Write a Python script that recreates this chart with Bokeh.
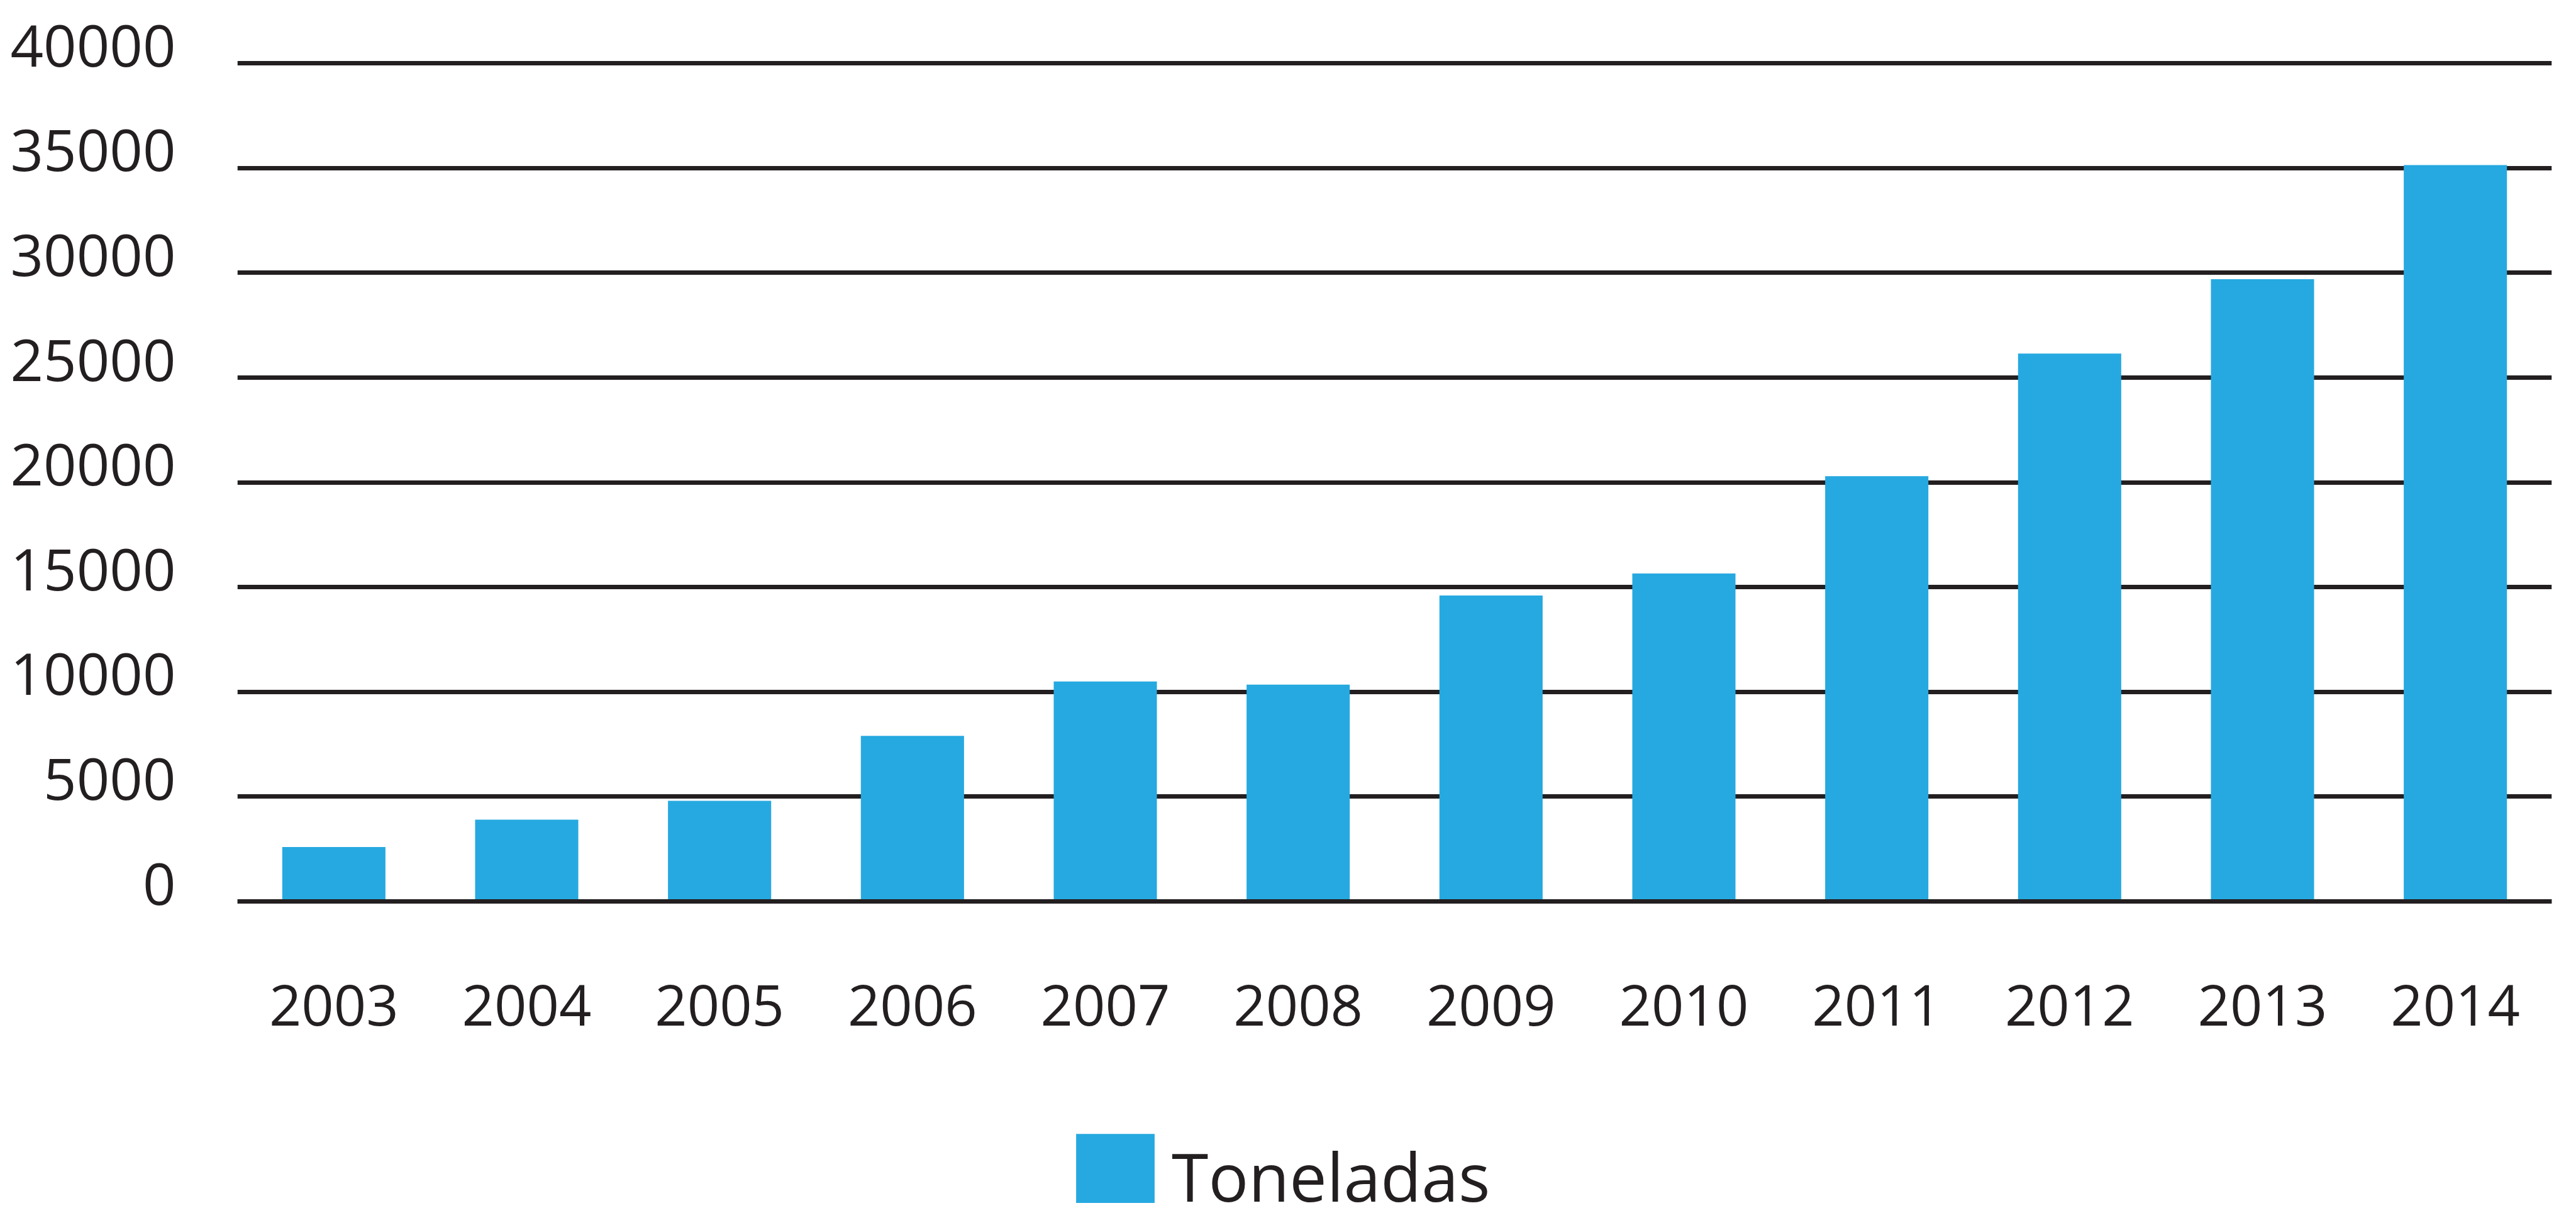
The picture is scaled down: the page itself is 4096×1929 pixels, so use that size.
from bokeh.plotting import figure
from bokeh.layouts import column
from bokeh.models import (FactorRange, Range1d, FixedTicker, ColumnDataSource,
                          Span, Legend, LegendItem)
from bokeh.embed import file_html
from bokeh.resources import INLINE

# ---- data ----
years = ["2003", "2004", "2005", "2006", "2007", "2008",
         "2009", "2010", "2011", "2012", "2013", "2014"]
toneladas = [2600, 3900, 4800, 7900, 10500, 10350,
             14600, 15650, 20300, 26150, 29700, 35150]
y_ticks = [0, 5000, 10000, 15000, 20000, 25000, 30000, 35000, 40000]
series_name = "Toneladas"

# ---- style ----
BLUE = "#26a9e0"
INK = "#231f20"
FONT = "Open Sans"
W = 4080
H_MAIN = 1710
H_LEG = 203
Y0, Y1 = -600, 41000
LABEL_SHIFT = 840  # y-labels sit a little above their grid lines

p = figure(width=W, height=H_MAIN, title=None,
           x_range=FactorRange(*years), y_range=Range1d(Y0, Y1),
           output_backend="svg", toolbar_location=None,
           min_border_left=377, min_border_right=23,
           min_border_top=67, min_border_bottom=H_MAIN - 1453)
p.outline_line_color = None
p.extra_y_ranges = {"lab": Range1d(Y0 - LABEL_SHIFT, Y1 - LABEL_SHIFT)}

src = ColumnDataSource(dict(year=years, toneladas=toneladas))
bars = p.vbar(x="year", top="toneladas", bottom=0, width=0.535, source=src,
              fill_color=BLUE, line_color=None)

# grid
p.xgrid.visible = False
p.ygrid.ticker = FixedTicker(ticks=y_ticks)
p.ygrid.grid_line_color = INK
p.ygrid.grid_line_width = 7

# zero line drawn over bar bottoms
p.add_layout(Span(location=0, dimension="width", line_color=INK, line_width=7))

# y axis
ya = p.yaxis[0]
ya.y_range_name = "lab"
ya.ticker = FixedTicker(ticks=y_ticks)
ya.axis_line_color = None
ya.major_tick_line_color = None
ya.minor_tick_line_color = None
ya.major_tick_out = 0
ya.minor_tick_out = 0
ya.major_label_standoff = 98
ya.major_label_text_font = FONT
ya.major_label_text_font_size = "92px"
ya.major_label_text_color = INK

# x axis
xa = p.xaxis[0]
xa.axis_line_color = None
xa.major_tick_line_color = None
xa.minor_tick_line_color = None
xa.major_tick_out = 0
xa.major_label_standoff = 112
xa.major_label_text_font = FONT
xa.major_label_text_font_size = "90px"
xa.major_label_text_color = INK

# ---- legend strip (own figure so nothing is clipped by the main frame) ----
lf = figure(width=W, height=H_LEG, title=None,
            x_range=FactorRange(*years), y_range=Range1d(0, 1),
            output_backend="svg", toolbar_location=None, min_border=0)
lf.outline_line_color = None
lf.axis.visible = False
lf.grid.visible = False
key = lf.vbar(x="year", top="toneladas", bottom=0, width=0.535, source=src,
              fill_color=BLUE, line_color=None, visible=False)
legend = Legend(items=[LegendItem(label=series_name, renderers=[key])],
                location=(1318, -49), orientation="horizontal",
                glyph_width=156, glyph_height=168, label_standoff=12,
                label_height=184,
                label_text_font=FONT, label_text_font_size="106px",
                label_text_color=INK, padding=0, margin=0, spacing=0,
                inactive_fill_alpha=0,
                border_line_color=None, background_fill_alpha=0)
lf.add_layout(legend)

layout = column(p, lf, spacing=0)
open("out.html", "w").write(file_html(layout, INLINE))
